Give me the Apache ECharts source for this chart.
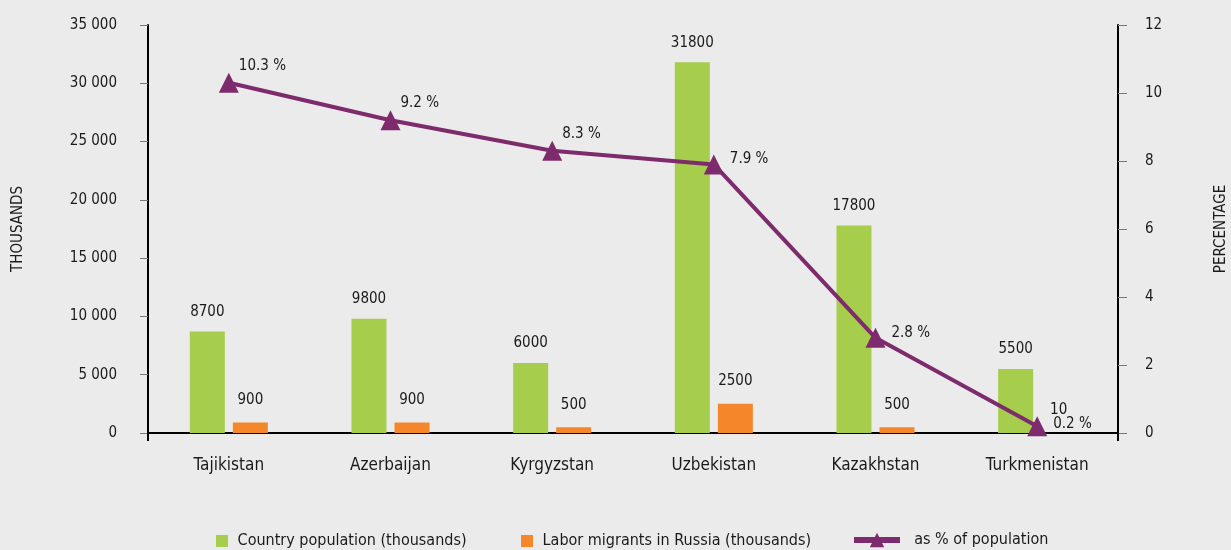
<!DOCTYPE html>
<html>
<head>
<meta charset="utf-8">
<style>
  html, body { margin: 0; padding: 0; background: #ebebeb; }
  #main { width: 1231px; height: 550px; }
</style>
<script src="https://cdn.jsdelivr.net/npm/echarts@6/dist/echarts.min.js"></script>
</head>
<body>
<div id="main"></div>
<script>
var countries = ['Tajikistan', 'Azerbaijan', 'Kyrgyzstan', 'Uzbekistan', 'Kazakhstan', 'Turkmenistan'];
var population = [8700, 9800, 6000, 31800, 17800, 5500];
var migrants = [900, 900, 500, 2500, 500, 10];
var percentOfPop = [10.3, 9.2, 8.3, 7.9, 2.8, 0.2];

var FONT = '"DejaVu Sans", sans-serif';
// canvas font shorthand: weight + stretch keyword, gives the condensed face
var WEIGHT = 'normal condensed';
var TEXT = '#1a1a1a';

function txt(size, extra) {
  var o = { fontFamily: FONT, fontWeight: WEIGHT, fontSize: size, color: TEXT };
  for (var k in extra) o[k] = extra[k];
  return o;
}

// the percent labels next to the steep part of the line sit lower
var lowLabel = { 3: [1, -5], 4: [1, -5], 5: [1, -2] };
var pctData = percentOfPop.map(function (v, i) {
  return lowLabel[i] ? { value: v, label: { offset: lowLabel[i] } } : v;
});

var legendBase = {
  top: 528,
  itemHeight: 12,
  textStyle: txt(16)
};

var myChart = echarts.init(document.getElementById('main'));
myChart.setOption({
  backgroundColor: '#ebebeb',
  textStyle: { fontFamily: FONT, color: TEXT },
  grid: { left: 148, right: 113, top: 25, bottom: 117, containLabel: false, outerBoundsMode: 'none' },
  legend: [
    Object.assign({}, legendBase, { left: 211, itemWidth: 12,
      formatter: ' {name}',
      data: [{ name: 'Country population (thousands)', icon: 'rect' }] }),
    Object.assign({}, legendBase, { left: 516, itemWidth: 12,
      formatter: ' {name}',
      data: [{ name: 'Labor migrants in Russia (thousands)', icon: 'rect' }] }),
    Object.assign({}, legendBase, { left: 846, top: 527, itemWidth: 46, itemHeight: 18,
      lineStyle: { width: 6 },
      formatter: '  {name}',
      data: [{ name: 'as % of population' }] })
  ],
  xAxis: {
    type: 'category',
    data: countries,
    axisLine: { lineStyle: { color: '#000', width: 2 } },
    axisTick: { show: true, length: 8, lineStyle: { color: '#000', width: 2 },
      interval: function (i) { return i === 0; } },
    axisLabel: txt(17, { margin: 24 })
  },
  yAxis: [{
    type: 'value',
    min: 0,
    max: 35000,
    interval: 5000,
    name: 'THOUSANDS',
    nameLocation: 'middle',
    nameGap: 122,
    nameRotate: 90,
    nameTextStyle: txt(15),
    axisLine: { show: true, lineStyle: { color: '#000', width: 2 } },
    axisTick: { show: true, length: 8, lineStyle: { color: '#777' } },
    splitLine: { show: false },
    axisLabel: txt(15, {
      margin: 31,
      formatter: function (v) { return v >= 1000 ? String(v).replace(/(\d)(?=(\d{3})$)/, '$1 ') : v; }
    })
  }, {
    type: 'value',
    min: 0,
    max: 12,
    interval: 2,
    name: 'PERCENTAGE',
    nameLocation: 'middle',
    nameGap: 96,
    nameRotate: 90,
    nameTextStyle: txt(15),
    axisLine: { show: true, lineStyle: { color: '#000', width: 2 } },
    axisTick: { show: true, length: 9, lineStyle: { color: '#777' } },
    splitLine: { show: false },
    axisLabel: txt(15, { margin: 27 })
  }],
  series: [{
    name: 'Country population (thousands)',
    type: 'bar',
    data: population,
    barWidth: 35,
    barGap: '23%',
    itemStyle: { color: '#a6cd4b' },
    label: txt(15, { show: true, position: 'top', distance: 12 })
  }, {
    name: 'Labor migrants in Russia (thousands)',
    type: 'bar',
    data: migrants,
    barWidth: 35,
    itemStyle: { color: '#f5872a' },
    label: txt(15, { show: true, position: 'top', distance: 15 })
  }, {
    name: 'as % of population',
    type: 'line',
    yAxisIndex: 1,
    data: pctData,
    symbol: 'triangle',
    symbolSize: 20,
    lineStyle: { color: '#7d2b6c', width: 4 },
    itemStyle: { color: '#7d2b6c' },
    label: txt(15, {
      show: true, position: 'right', offset: [-5, -17],
      formatter: function (p) { return p.value + ' %'; }
    }),
    z: 5
  }]
});
</script>
</body>
</html>
